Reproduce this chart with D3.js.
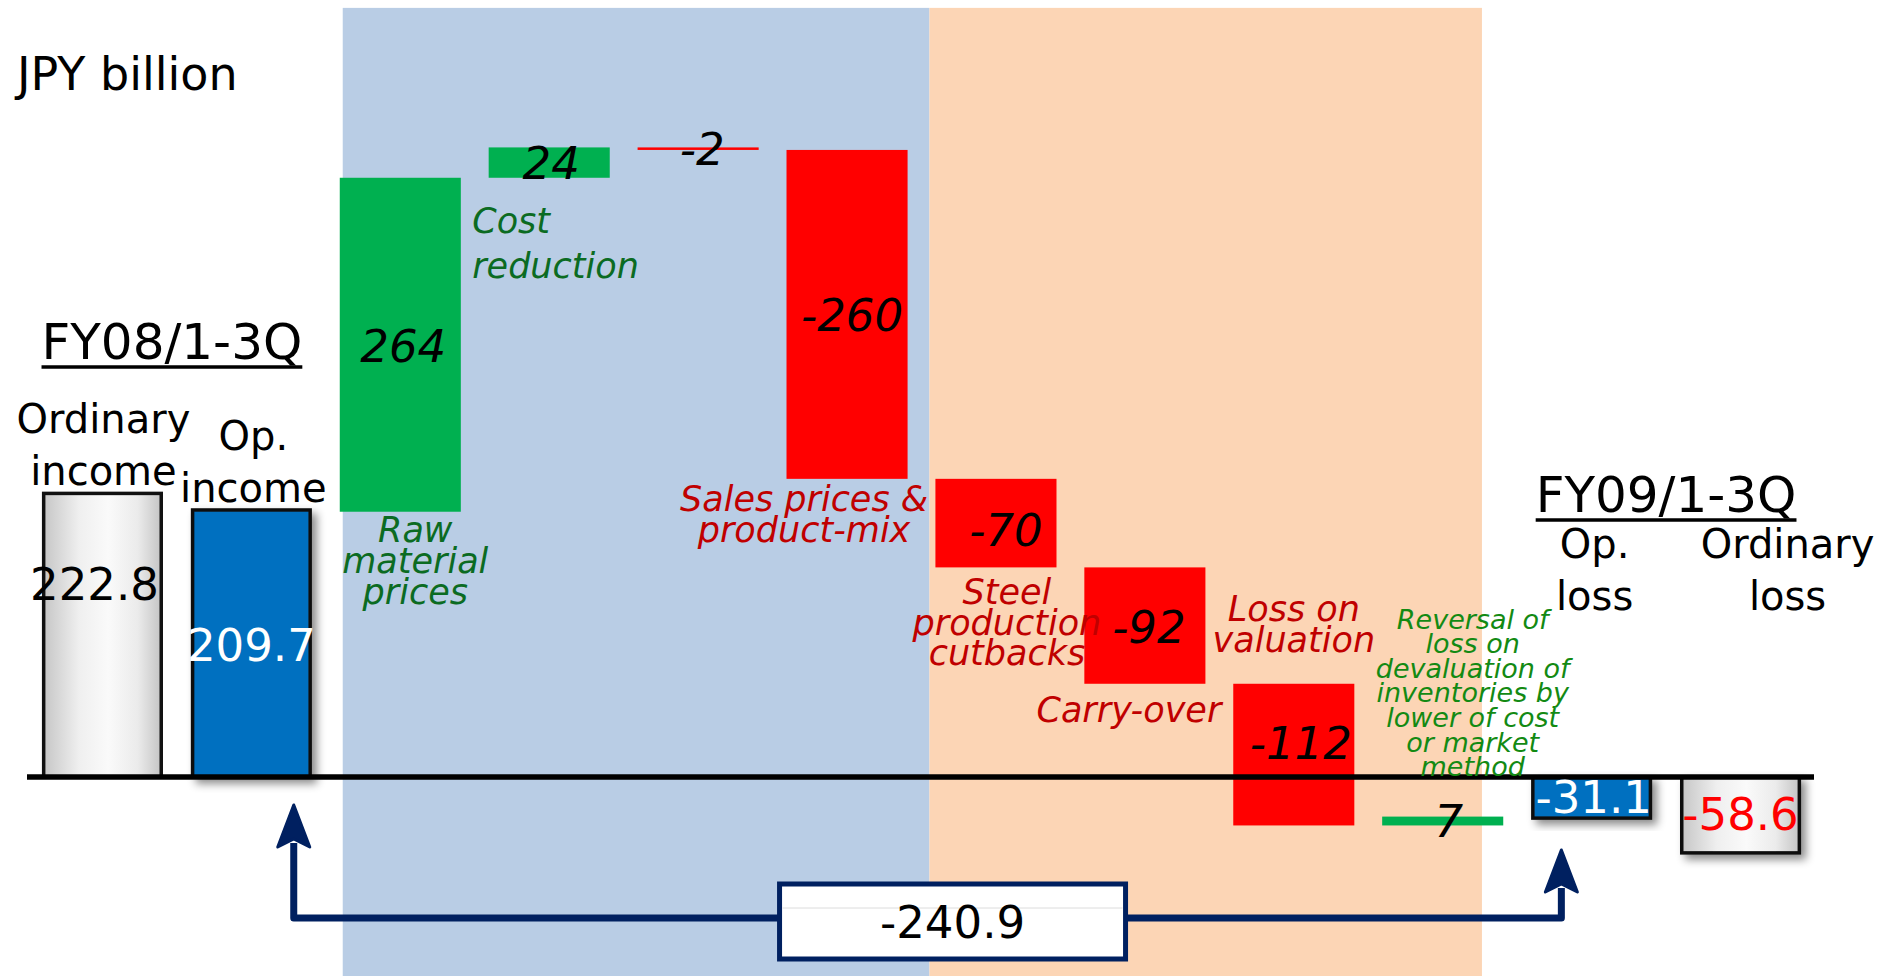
<!DOCTYPE html>
<html><head><meta charset="utf-8">
<script src="https://cdn.jsdelivr.net/npm/d3@7"></script>
<style>html,body{margin:0;padding:0;background:#fff;overflow:hidden} svg{display:block} text{font-family:"DejaVu Sans",sans-serif}</style>
</head><body><svg id="c" width="1892" height="976"></svg>
<script>
// ---------------- DATA ----------------
const categories = ["Ordinary income FY08","Op. income FY08","Raw material prices","Cost reduction","Other","Sales prices & product-mix","Steel production cutbacks","Carry-over","Loss on valuation","Reversal of loss on devaluation","Op. loss FY09","Ordinary loss FY09"];
const ordinaryIncomeFY08 = 222.8;
const opIncomeFY08 = 209.7;
const changes = [264, 24, -2, -260, -70, -92, -112, 7];
const opLossFY09 = -31.1;
const ordinaryLossFY09 = -58.6;
const totalChange = -240.9;
const changeLabelLines = [
  ["Raw","material","prices"],
  ["Cost","reduction"],
  [],
  ["Sales prices &","product-mix"],
  ["Steel","production","cutbacks"],
  ["Carry-over"],
  ["Loss on","valuation"],
  ["Reversal of","loss on","devaluation of","inventories by","lower of cost","or market","method"]
];
const unitLabel = "JPY billion";
const periodLabels = ["FY08/1-3Q","FY09/1-3Q"];
const totalHeaderLines = [["Ordinary","income"],["Op.","income"],["Op.","loss"],["Ordinary","loss"]];

// ---------------- LAYOUT / STYLE ----------------
const W = 1892, H = 976;
const GREEN = "#00B050", RED = "#FF0000", BLUE = "#0070C0", NAVY = "#002060";
const LBL_GREEN = "#0B6B22", LBL_GREEN2 = "#138A13", LBL_RED = "#C00000";
const regions = [{from:2.02, to:5.96, color:"#B9CDE5"},{from:5.96, to:9.67, color:"#FCD5B5"}];
const regionTopValue = 608;
const changeValueOffsets = [[3,1],[2,0],[4,0],[5,0],[10,7],[4,1],[7,-12],[6,0]];
const changeLabelLayout = [
  {dx:15, anchor:"middle", ref:"bottom", dy:30, lh:31, size:35, color:LBL_GREEN},
  {dx:-77, anchor:"start", ref:"bottom", dy:55, lh:45, size:35, color:LBL_GREEN},
  null,
  {dx:-43, anchor:"middle", ref:"bottom", dy:32, lh:31, size:35, color:LBL_RED},
  {dx:11, anchor:"middle", ref:"bottom", dy:37, lh:30.5, size:35, color:LBL_RED},
  {dx:-16, anchor:"middle", ref:"bottom", dy:38, lh:31, size:35, color:LBL_RED},
  {dx:0, anchor:"middle", ref:"top", dy:-63, lh:31, size:35, color:LBL_RED},
  {dx:30, anchor:"middle", ref:"top", dy:-188, lh:24.6, size:27, color:LBL_GREEN2}
];

const svg = d3.select("#c");
const defs = svg.append("defs");
const grad = defs.append("linearGradient").attr("id","gray").attr("x1",0).attr("x2",1).attr("y1",0).attr("y2",0);
[[0,"#c6c6c6"],[0.3,"#efefef"],[0.55,"#fafafa"],[0.8,"#ebebeb"],[1,"#c4c4c4"]].forEach(([o,c])=>grad.append("stop").attr("offset",o).attr("stop-color",c));
const flt = defs.append("filter").attr("id","shadow").attr("x","-20%").attr("y","-20%").attr("width","150%").attr("height","150%");
flt.append("feDropShadow").attr("dx",5).attr("dy",5).attr("stdDeviation",4).attr("flood-color","#000").attr("flood-opacity",0.45);

// scales
const x = d3.scaleBand().domain(categories).range([28,1815]).paddingInner(0.187).paddingOuter(0.0935);
const y = d3.scaleLinear().domain([0,100]).range([777,650.5]);
const bw = x.bandwidth(), step = x.step(), x0 = x(categories[0]);
const xi = i => x0 + i*step;
const cx = c => x(c) + bw/2;

// background regions
svg.selectAll("rect.region").data(regions).join("rect").attr("class","region")
  .attr("x",d=>xi(d.from)).attr("width",d=>xi(d.to)-xi(d.from))
  .attr("y",y(regionTopValue)).attr("height",H-y(regionTopValue)).attr("fill",d=>d.color);

// waterfall steps
let level = opIncomeFY08;
const steps = changes.map((v,i)=>{const s={cat:categories[i+2], from:level, to:level+v, v, i}; level+=v; return s;});
svg.selectAll("rect.step").data(steps).join("rect").attr("class","step")
  .attr("x",d=>x(d.cat)).attr("width",bw)
  .attr("y",d=>y(Math.max(d.from,d.to))).attr("height",d=>Math.abs(y(d.from)-y(d.to)))
  .attr("fill",d=>d.v>0?GREEN:RED);

// total bars
const totals = [
  {cat:categories[0], v:ordinaryIncomeFY08, fill:"url(#gray)", color:"#000", shadow:false, off:[-8,-52]},
  {cat:categories[1], v:opIncomeFY08, fill:BLUE, color:"#fff", shadow:true, off:[0,0]},
  {cat:categories[10], v:opLossFY09, fill:BLUE, color:"#fff", shadow:true, off:[2,0]},
  {cat:categories[11], v:ordinaryLossFY09, fill:"url(#gray)", color:RED, shadow:true, off:[0,0]}
];
const sw = 3.5;
svg.selectAll("rect.total").data(totals).join("rect").attr("class","total")
  .attr("x",d=>x(d.cat)+sw/2).attr("width",bw-sw)
  .attr("y",d=>Math.min(y(0),y(d.v))+(d.v>0?-sw/2:0)).attr("height",d=>Math.abs(y(0)-y(d.v))+sw/2)
  .attr("fill",d=>d.fill).attr("stroke","#111").attr("stroke-width",sw)
  .attr("filter",d=>d.shadow?"url(#shadow)":null);

// baseline
svg.append("line").attr("x1",27).attr("x2",1814).attr("y1",y(0)).attr("y2",y(0)).attr("stroke","#000").attr("stroke-width",5.5);

// value labels on steps
svg.selectAll("text.sv").data(steps).join("text").attr("class","sv")
  .attr("x",d=>cx(d.cat)+changeValueOffsets[d.i][0])
  .attr("y",d=>(y(d.from)+y(d.to))/2+changeValueOffsets[d.i][1])
  .attr("dy","0.36em").attr("text-anchor","middle").attr("font-size",45).attr("font-style","italic")
  .attr("fill","#000").text(d=>String(d.v));

// value labels on totals
svg.selectAll("text.tv").data(totals).join("text").attr("class","tv")
  .attr("x",d=>cx(d.cat)+d.off[0]).attr("y",d=>(y(0)+y(d.v))/2+d.off[1])
  .attr("dy","0.36em").attr("text-anchor","middle").attr("font-size",45)
  .attr("fill",d=>d.color).text(d=>d.v.toFixed(1));

// category labels
steps.forEach(s=>{
  const L = changeLabelLayout[s.i]; if(!L) return;
  const top = Math.min(y(s.from),y(s.to)), bot = Math.max(y(s.from),y(s.to));
  const by = (L.ref==="bottom"?bot:top) + L.dy;
  const t = svg.append("text").attr("text-anchor",L.anchor).attr("font-size",L.size)
    .attr("font-style","italic").attr("fill",L.color);
  changeLabelLines[s.i].forEach((ln,k)=>{
    t.append("tspan").attr("x",cx(s.cat)+L.dx).attr("y",by+k*L.lh).text(ln);
  });
});

// unit label
svg.append("text").attr("x",17).attr("y",90).attr("font-size",46).attr("fill","#000").text(unitLabel);

// period headers (underlined)
function header(txt, xc, yb){
  const t = svg.append("text").attr("x",xc).attr("y",yb).attr("text-anchor","middle").attr("font-size",50).attr("fill","#000").text(txt);
  const w = t.node().getComputedTextLength();
  svg.append("line").attr("x1",xc-w/2).attr("x2",xc+w/2).attr("y1",yb+8).attr("y2",yb+8).attr("stroke","#000").attr("stroke-width",3.5);
}
header(periodLabels[0], (cx(categories[0])+cx(categories[1]))/2-5, 359);
header(periodLabels[1], (cx(categories[10])+cx(categories[11]))/2, y(0)-265);

// total headers
const headerPos = [
  {cat:categories[0], dx:1, yb:433},
  {cat:categories[1], dx:2, yb:450},
  {cat:categories[10], dx:3, yb:y(0)-219},
  {cat:categories[11], dx:47, yb:y(0)-219}
];
headerPos.forEach((h,i)=>{
  const t = svg.append("text").attr("text-anchor","middle").attr("font-size",40).attr("fill","#000");
  totalHeaderLines[i].forEach((ln,k)=>t.append("tspan").attr("x",cx(h.cat)+h.dx).attr("y",h.yb+k*51.5).text(ln));
});

// connector arrows with total change box
const leftX = x(categories[1]) + bw*0.85;
const rightX = x(categories[10]) + bw*0.25;
const lineY = y(0) + 141;
const leftTip = y(0) + 28, rightTip = y(0) + 73;
const ah = 42, aw = 16;
svg.append("path").attr("d",`M${leftX},${leftTip+ah-4}V${lineY}H${rightX}V${rightTip+ah-4}`)
  .attr("fill","none").attr("stroke",NAVY).attr("stroke-width",7).attr("stroke-linejoin","round");
[[leftX,leftTip],[rightX,rightTip]].forEach(([ax,at])=>{
  svg.append("path").attr("d",`M${ax},${at}L${ax+aw},${at+ah}L${ax},${at+ah-8}L${ax-aw},${at+ah}Z`)
    .attr("fill",NAVY).attr("stroke",NAVY).attr("stroke-width",3).attr("stroke-linejoin","round");
});
const boxW = 346, boxH = 75, boxCx = (leftX+rightX)/2 + 25, boxCy = lineY + 3.5;
svg.append("rect").attr("x",boxCx-boxW/2).attr("y",boxCy-boxH/2).attr("width",boxW).attr("height",boxH)
  .attr("fill","#fff").attr("stroke",NAVY).attr("stroke-width",5);
svg.append("line").attr("x1",boxCx-boxW/2+3).attr("x2",boxCx+boxW/2-3).attr("y1",boxCy-boxH/2+24).attr("y2",boxCy-boxH/2+24)
  .attr("stroke","#dcdcdc").attr("stroke-width",1);
svg.append("text").attr("x",boxCx).attr("y",boxCy).attr("dy","0.36em").attr("text-anchor","middle").attr("font-size",45)
  .attr("fill","#000").text(totalChange.toFixed(1));
</script></body></html>
